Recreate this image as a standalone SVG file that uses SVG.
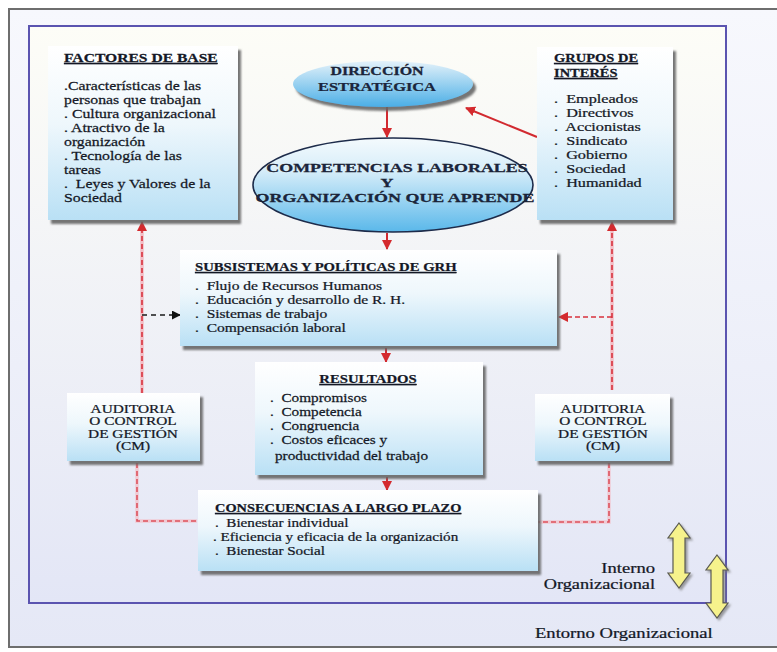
<svg xmlns="http://www.w3.org/2000/svg" width="777" height="652" viewBox="0 0 777 652">
<defs>
<style>
.t{font-family:"Liberation Serif","Times New Roman",serif;fill:#141826;stroke:#141826;stroke-width:0.25;white-space:pre}
.h{font-weight:bold;font-size:12.5px;text-decoration:underline}
.i{font-size:13.5px}
.e{font-weight:bold;font-size:13px;fill:#1b2640;text-anchor:middle}
.a{font-size:13px;text-anchor:middle}
.l{font-size:15.5px}
.box{fill:url(#boxG);filter:url(#sh)}
.red{stroke:#d22a30;stroke-width:2;fill:none}
.pk{stroke:#f2bcc4;stroke-width:3.5;fill:none}
.rd{stroke:#d8323e;stroke-width:1.6;stroke-dasharray:5 3;fill:none}
.bk{stroke:#1a1a1a;stroke-width:1.6;stroke-dasharray:5 4;fill:none}
.ya{fill:#f6f28c;stroke:#5a5a50;stroke-width:1.2;filter:url(#sh2)}
</style>
<linearGradient id="boxG" x1="0" y1="0" x2="0" y2="1">
<stop offset="0" stop-color="#ffffff"/><stop offset="0.45" stop-color="#eef7fc"/><stop offset="1" stop-color="#b9e0f5"/>
</linearGradient>
<linearGradient id="ellG1" x1="0" y1="0" x2="0" y2="1">
<stop offset="0" stop-color="#e4f2fa"/><stop offset="1" stop-color="#4aaee6"/>
</linearGradient>
<linearGradient id="ellG2" x1="0" y1="0" x2="0" y2="1">
<stop offset="0" stop-color="#f4fafd"/><stop offset="0.35" stop-color="#d6edf9"/><stop offset="1" stop-color="#5ab8ea"/>
</linearGradient>
<linearGradient id="inG" x1="0" y1="0" x2="0" y2="1">
<stop offset="0" stop-color="#fdfdf7"/><stop offset="1" stop-color="#e3e6f6"/>
</linearGradient>
<linearGradient id="outG" x1="0" y1="0" x2="0" y2="1">
<stop offset="0" stop-color="#f7f8fd"/><stop offset="1" stop-color="#e5e8f6"/>
</linearGradient>
<filter id="sh" x="-10%" y="-10%" width="130%" height="140%">
<feDropShadow dx="3" dy="4" stdDeviation="1.2" flood-color="#666" flood-opacity="0.9"/>
</filter>
<filter id="sh2" x="-30%" y="-10%" width="170%" height="130%">
<feDropShadow dx="2" dy="2" stdDeviation="1" flood-color="#777" flood-opacity="0.7"/>
</filter>
<marker id="arR" viewBox="0 0 10 10" refX="9" refY="5" markerWidth="10" markerHeight="10" markerUnits="userSpaceOnUse" orient="auto">
<path d="M0,0 L10,5 L0,10 z" fill="#d42a2e"/>
</marker>
<marker id="arK" viewBox="0 0 10 10" refX="9" refY="5" markerWidth="9" markerHeight="9" markerUnits="userSpaceOnUse" orient="auto">
<path d="M0,0 L10,5 L0,10 z" fill="#111"/>
</marker>
</defs>

<rect x="0" y="0" width="777" height="652" fill="#ffffff"/>
<g id="frame-outer">
<rect x="9" y="9" width="780" height="638" fill="url(#outG)" stroke="#6e6e6e" stroke-width="2"/>
</g>
<g id="frame-inner">
<rect x="29" y="26" width="697" height="577" fill="url(#inG)" stroke="#5b54b0" stroke-width="2"/>
</g>

<g id="connectors">
<line class="red" x1="387" y1="107" x2="387" y2="137" marker-end="url(#arR)"/>
<line class="red" x1="387" y1="233" x2="387" y2="249" marker-end="url(#arR)"/>
<line class="red" x1="386" y1="348" x2="386" y2="362" marker-end="url(#arR)"/>
<line class="red" x1="387" y1="477" x2="387" y2="490" marker-end="url(#arR)"/>
<line class="red" x1="537" y1="137" x2="466" y2="108" marker-end="url(#arR)"/>
<path class="pk" d="M142,393 V228"/>
<path class="rd" d="M142,393 V222" marker-end="url(#arR)"/>
<path class="bk" d="M142,315 H180" marker-end="url(#arK)"/>
<path class="pk" d="M137,463 V521 H197" stroke-opacity="0.7"/>
<path class="rd" d="M137,463 V521 H197" stroke-opacity="0.8"/>
<path class="pk" d="M612,390 V228"/>
<path class="rd" d="M612,390 V222" marker-end="url(#arR)"/>
<path class="rd" d="M612,317 H559" marker-end="url(#arR)"/>
<path class="pk" d="M609,463 V522 H538" stroke-opacity="0.7"/>
<path class="rd" d="M609,463 V522 H538" stroke-opacity="0.8"/>
</g>

<g id="factores">
<rect class="box" x="48" y="46" width="190" height="174"/>
<text class="t h" transform="matrix(1.25 0 0 1 64 62)">FACTORES DE BASE</text>
<text class="t i" transform="matrix(1.17 0 0 1 64 90)">.Características de las</text>
<text class="t i" transform="matrix(1.17 0 0 1 64 104)">personas que trabajan</text>
<text class="t i" transform="matrix(1.17 0 0 1 64 118)">. Cultura organizacional</text>
<text class="t i" transform="matrix(1.17 0 0 1 64 132)">. Atractivo de la</text>
<text class="t i" transform="matrix(1.17 0 0 1 64 146)">organización</text>
<text class="t i" transform="matrix(1.17 0 0 1 64 160)">. Tecnología de las</text>
<text class="t i" transform="matrix(1.17 0 0 1 64 174)">tareas</text>
<text class="t i" transform="matrix(1.17 0 0 1 64 188)">.  Leyes y Valores de la</text>
<text class="t i" transform="matrix(1.17 0 0 1 64 202)">Sociedad</text>
</g>

<g id="direccion">
<ellipse cx="383" cy="84" rx="90" ry="23" fill="url(#ellG1)" filter="url(#sh)"/>
<text class="t e" transform="matrix(1.23 0 0 1 377 75)">DIRECCIÓN</text>
<text class="t e" transform="matrix(1.26 0 0 1 377 91)">ESTRATÉGICA</text>
</g>

<g id="competencias">
<ellipse cx="393" cy="185" rx="140" ry="47" fill="url(#ellG2)" stroke="#1d2b4a" stroke-width="1.6"/>
<text class="t e" transform="matrix(1.38 0 0 1 397 172)">COMPETENCIAS LABORALES</text>
<text class="t e" transform="matrix(1.38 0 0 1 387 187)">Y</text>
<text class="t e" transform="matrix(1.38 0 0 1 395 202)">ORGANIZACIÓN QUE APRENDE</text>
</g>

<g id="grupos">
<rect class="box" x="537" y="47" width="136" height="173"/>
<text class="t h" transform="matrix(1.16 0 0 1 554 62)">GRUPOS DE</text>
<text class="t h" transform="matrix(1.16 0 0 1 554 77)">INTERÉS</text>
<text class="t i" transform="matrix(1.2 0 0 1 554 103)">.  Empleados</text>
<text class="t i" transform="matrix(1.2 0 0 1 554 117)">.  Directivos</text>
<text class="t i" transform="matrix(1.2 0 0 1 554 131)">.  Accionistas</text>
<text class="t i" transform="matrix(1.2 0 0 1 554 145)">.  Sindicato</text>
<text class="t i" transform="matrix(1.2 0 0 1 554 159)">.  Gobierno</text>
<text class="t i" transform="matrix(1.2 0 0 1 554 173)">.  Sociedad</text>
<text class="t i" transform="matrix(1.2 0 0 1 554 187)">.  Humanidad</text>
</g>

<g id="subsistemas">
<rect class="box" x="180" y="250" width="377" height="96"/>
<text class="t h" transform="matrix(1.176 0 0 1 195 271)">SUBSISTEMAS Y POLÍTICAS DE GRH</text>
<text class="t i" transform="matrix(1.15 0 0 1 195 290)">.  Flujo de Recursos Humanos</text>
<text class="t i" transform="matrix(1.15 0 0 1 195 304)">.  Educación y desarrollo de R. H.</text>
<text class="t i" transform="matrix(1.15 0 0 1 195 318)">.  Sistemas de trabajo</text>
<text class="t i" transform="matrix(1.15 0 0 1 195 332)">.  Compensación laboral</text>
</g>

<g id="resultados">
<rect class="box" x="255" y="362" width="228" height="113"/>
<text class="t h" text-anchor="middle" transform="matrix(1.18 0 0 1 368 383)">RESULTADOS</text>
<text class="t i" transform="matrix(1.13 0 0 1 270 402)">.  Compromisos</text>
<text class="t i" transform="matrix(1.13 0 0 1 270 416)">.  Competencia</text>
<text class="t i" transform="matrix(1.13 0 0 1 270 430)">.  Congruencia</text>
<text class="t i" transform="matrix(1.13 0 0 1 270 444)">.  Costos eficaces y</text>
<text class="t i" transform="matrix(1.13 0 0 1 275 460)">productividad del trabajo</text>
</g>

<g id="consecuencias">
<rect class="box" x="198" y="490" width="340" height="81"/>
<text class="t h" transform="matrix(1.15 0 0 1 215 512)">CONSECUENCIAS A LARGO PLAZO</text>
<text class="t i" transform="matrix(1.12 0 0 1 215 527)">.  Bienestar individual</text>
<text class="t i" transform="matrix(1.12 0 0 1 213 541)">. Eficiencia y eficacia de la organización</text>
<text class="t i" transform="matrix(1.12 0 0 1 215 555)">.  Bienestar Social</text>
</g>

<g id="auditoria-izq">
<rect class="box" x="67" y="393" width="133" height="68"/>
<text class="t a" transform="matrix(1.18 0 0 1 133 412.5)">AUDITORIA</text>
<text class="t a" transform="matrix(1.18 0 0 1 133 425)">O CONTROL</text>
<text class="t a" transform="matrix(1.18 0 0 1 133 437.5)">DE GESTIÓN</text>
<text class="t a" transform="matrix(1.18 0 0 1 133 450)">(CM)</text>
</g>

<g id="auditoria-der">
<rect class="box" x="535" y="394" width="135" height="67"/>
<text class="t a" transform="matrix(1.18 0 0 1 603 412.5)">AUDITORIA</text>
<text class="t a" transform="matrix(1.18 0 0 1 603 425)">O CONTROL</text>
<text class="t a" transform="matrix(1.18 0 0 1 603 437.5)">DE GESTIÓN</text>
<text class="t a" transform="matrix(1.18 0 0 1 603 450)">(CM)</text>
</g>

<g id="interno">
<path class="ya" d="M679,523 L690,538 L685,538 L685,573 L690,573 L679,588 L668,573 L673,573 L673,538 L668,538 Z"/>
<text class="t l" text-anchor="end" transform="matrix(1.2 0 0 1 655 573)">Interno</text>
<text class="t l" text-anchor="end" transform="matrix(1.18 0 0 1 655 589)">Organizacional</text>
</g>

<g id="entorno">
<path class="ya" d="M717,555 L728,570 L723,570 L723,603 L728,603 L717,618 L706,603 L711,603 L711,570 L706,570 Z"/>
<text class="t l" transform="matrix(1.2 0 0 1 535 638)">Entorno Organizacional</text>
</g>
</svg>
